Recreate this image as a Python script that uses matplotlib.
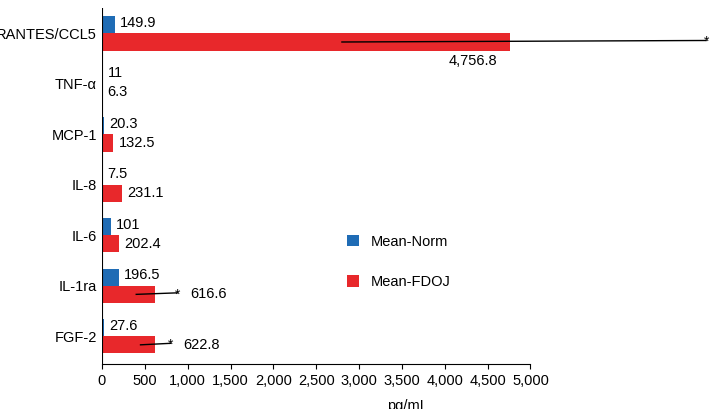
import matplotlib.pyplot as plt
import numpy as np

plt.rcParams['font.family'] = ['Liberation Sans', 'DejaVu Sans']

categories = ["RANTES/CCL5", "TNF-α", "MCP-1", "IL-8", "IL-6", "IL-1ra", "FGF-2"]
mean_norm = [149.9, 11, 20.3, 7.5, 101, 196.5, 27.6]
mean_fdoj = [4756.8, 6.3, 132.5, 231.1, 202.4, 616.6, 622.8]
norm_labels = ["149.9", "11", "20.3", "7.5", "101", "196.5", "27.6"]
fdoj_labels = ["4,756.8", "6.3", "132.5", "231.1", "202.4", "616.6", "622.8"]
err_low = [2800, None, None, None, None, 400, 450]
err_high = [7050, None, None, None, None, 880, 800]

fig = plt.figure(figsize=(7.13, 4.09), dpi=100)
ax = fig.add_axes([0.143, 0.11, 0.857, 0.87])
y = np.arange(len(categories))[::-1].astype(float)
h = 0.34
blue = "#1f6cb5"
red = "#e8282b"
ax.barh(y + h/2, mean_norm, height=h, color=blue, label="Mean-Norm")
ax.barh(y - h/2, mean_fdoj, height=h, color=red, label="Mean-FDOJ")
for i in range(len(categories)):
    ax.text(mean_norm[i] + 60, y[i] + h/2 + 0.04, norm_labels[i], va="center", fontsize=10.5)
    if err_low[i] is not None:
        ax.plot([err_low[i], err_high[i]], [y[i] - h/2, y[i] - h/2 + 0.03], color="black", lw=1)
        ax.text(err_high[i], y[i] - h/2, "*", ha="center", va="center", fontsize=10)
    if i == 0:
        ax.text(mean_fdoj[i] - 150, y[i] - h - 0.2, fdoj_labels[i], ha="right", va="center", fontsize=10.5)
    elif err_low[i] is not None:
        ax.text(err_high[i] + 150, y[i] - h/2, fdoj_labels[i], va="center", fontsize=10.5)
    else:
        ax.text(mean_fdoj[i] + 60, y[i] - h/2, fdoj_labels[i], va="center", fontsize=10.5)

ax.set_yticks(y)
ax.set_yticklabels(categories, fontsize=10.5)
ax.set_xlim(0, 7130)
ax.set_ylim(-0.55, 6.5)
ax.set_xticks(range(0, 5001, 500))
ax.set_xticklabels([f"{v:,}" for v in range(0, 5001, 500)], fontsize=10.5)
ax.set_xlabel("pg/mL", fontsize=10.5, labelpad=8)
ax.tick_params(axis="y", length=0)
for s in ["top", "right", "left"]:
    ax.spines[s].set_visible(False)
ax.spines["bottom"].set_bounds(0, 5000)
ax.axvline(0, color="black", lw=0.8)
ax.legend(loc="upper left", bbox_to_anchor=(0.38, 0.40), frameon=False, fontsize=10.5,
          handlelength=0.8, handleheight=0.8, labelspacing=1.8)
fig.savefig("out.png", dpi=100)
